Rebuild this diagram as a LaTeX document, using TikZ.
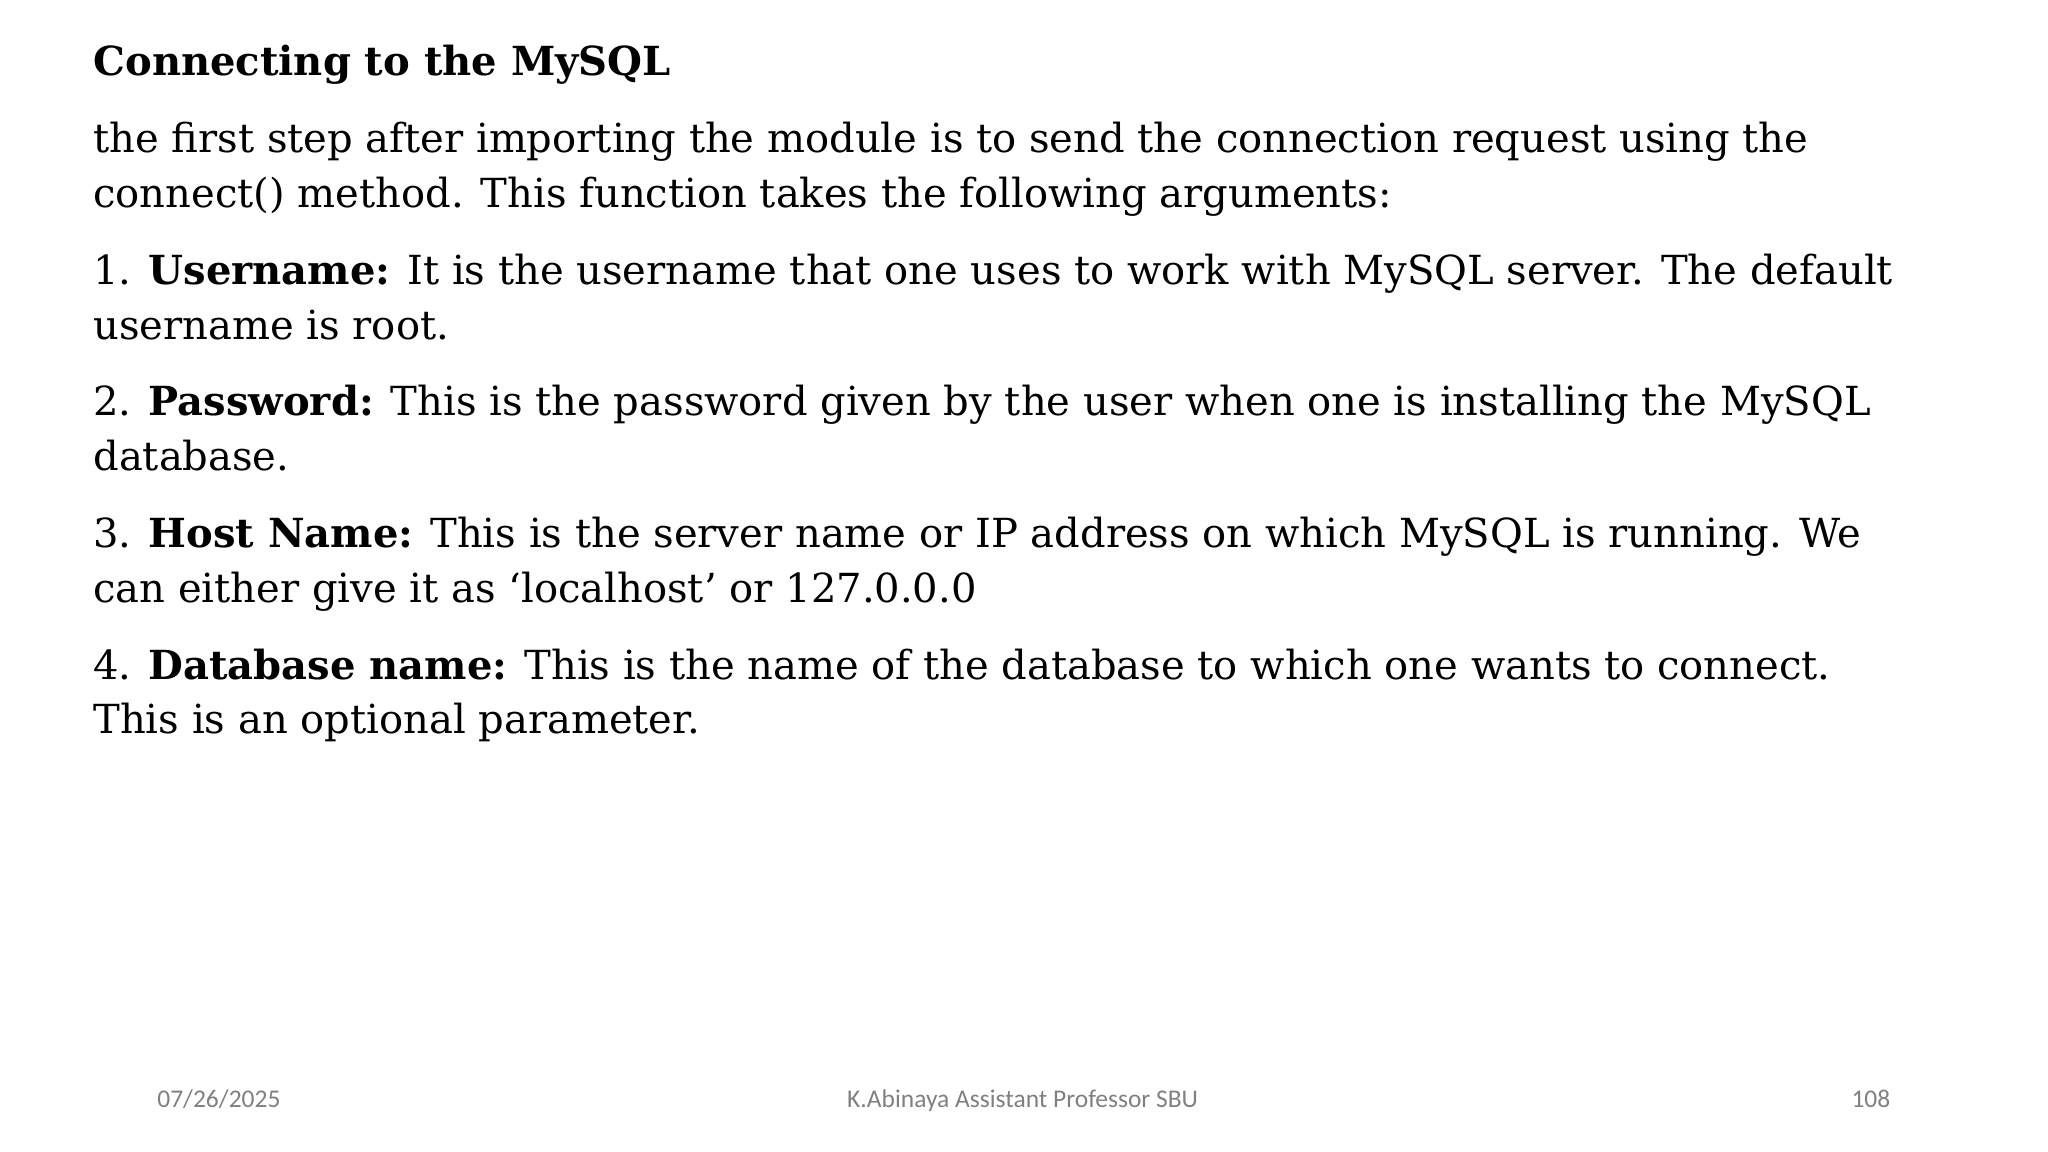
\documentclass[tikz,border=0pt]{standalone}
\usepackage{fontspec}
\setmainfont{DejaVu Serif}
\newfontfamily\footfont{Carlito}
\begin{document}
\begin{tikzpicture}[x=1cm,y=1cm,
  txt/.style={anchor=base west,inner sep=0pt,font=\fontsize{11.4}{13}\selectfont},
  foot/.style={anchor=base,inner sep=0pt,text=black!50,font=\footfont\fontsize{7.25}{8}\selectfont}]
\useasboundingbox (0,0) rectangle (20.48,-11.52);
\node[txt] (t) at (0.927,-0.757) {\bfseries Connecting to the MySQL};
\node[txt] (a1) at (0.927,-1.528) {the first step after importing the module is to send the connection request using the};
\node[txt] (a2) at (0.927,-2.077) {connect() method. This function takes the following arguments:};
\node[txt] (b1) at (0.927,-2.847) {1. \textbf{Username:} It is the username that one uses to work with MySQL server. The default};
\node[txt] (b2) at (0.927,-3.396) {username is root.};
\node[txt] (c1) at (0.927,-4.153) {2. \textbf{Password:} This is the password given by the user when one is installing the MySQL};
\node[txt] (c2) at (0.927,-4.702) {database.};
\node[txt] (d1) at (0.927,-5.472) {3. \textbf{Host Name:} This is the server name or IP address on which MySQL is running. We};
\node[txt] (d2) at (0.927,-6.021) {can either give it as ‘localhost’ or 127.0.0.0};
\node[txt] (e1) at (0.927,-6.791) {4. \textbf{Database name:} This is the name of the database to which one wants to connect.};
\node[txt] (e2) at (0.927,-7.340) {This is an optional parameter.};
\node[foot,anchor=base west] (f1) at (1.567,-11.075) {07/26/2025};
\node[foot] (f2) at (10.226,-11.075) {K.Abinaya Assistant Professor SBU};
\node[foot,anchor=base east] (f3) at (18.91,-11.075) {108};
\end{tikzpicture}
\end{document}
